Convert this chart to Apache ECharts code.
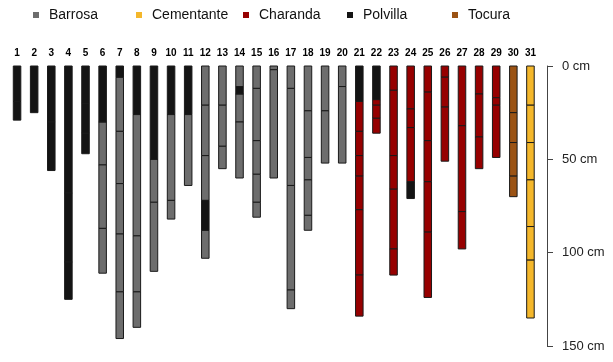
<!DOCTYPE html>
<html>
<head>
<meta charset="utf-8">
<title>Perfiles de suelo</title>
<script src="https://cdn.jsdelivr.net/npm/echarts@6/dist/echarts.min.js"></script>
<style>
  html, body { margin: 0; padding: 0; background: #fff; }
  #chart { width: 613px; height: 362px; }
</style>
</head>
<body>
<div id="chart"></div>
<script>
// cores (sondeos) shown across the top
var cores = ['1','2','3','4','5','6','7','8','9','10','11','12','13','14','15','16',
             '17','18','19','20','21','22','23','24','25','26','27','28','29','30','31'];
var soilTypes = ['Barrosa', 'Cementante', 'Charanda', 'Polvilla', 'Tocura'];
var soilColors = ['#6d6d6d', '#f4b72b', '#960000', '#141414', '#9b5314'];
var depthTicks = [0, 50, 100, 150];

// horizons: [core number, top cm, bottom cm]
var barrosaLayers = [
  [6,30,53],[6,53,87],[6,87,111],
  [7,6,35],[7,35,63],[7,63,90],[7,90,121],[7,121,146],
  [8,26,91],[8,91,121],[8,121,140],
  [9,50,73],[9,73,110],
  [10,26,72],[10,72,82],
  [11,26,64],
  [12,0,21],[12,21,48],[12,48,72],[12,88,103],
  [13,0,21],[13,21,43],[13,43,55],
  [14,0,11],[14,15,30],[14,30,60],
  [15,0,12],[15,12,40],[15,40,58],[15,58,73],[15,73,81],
  [16,0,2],[16,2,60],
  [17,0,12],[17,12,64],[17,64,120],[17,120,130],
  [18,0,24],[18,24,49],[18,49,61],[18,61,80],[18,80,88],
  [19,0,24],[19,24,52],
  [20,0,11],[20,11,52]
];
var cementanteLayers = [
  [31,0,21],[31,21,41],[31,41,61],[31,61,86],[31,86,104],[31,104,135]
];
var charandaLayers = [
  [21,19,35],[21,35,48],[21,48,59],[21,59,77],[21,77,112],[21,112,134],
  [22,18,21],[22,21,28],[22,28,36],
  [23,0,13],[23,13,48],[23,48,66],[23,66,98],[23,98,112],
  [24,0,23],[24,23,33],[24,33,62],
  [25,0,14],[25,14,40],[25,40,62],[25,62,89],[25,89,124],
  [26,0,6],[26,6,22],[26,22,51],
  [27,0,32],[27,32,78],[27,78,98],
  [28,0,15],[28,15,38],[28,38,55],
  [29,0,17],[29,17,21],[29,21,49]
];
var polvillaLayers = [
  [1,0,19],[1,19,29],
  [2,0,25],
  [3,0,30],[3,30,56],
  [4,0,68],[4,68,105],[4,105,125],
  [5,0,20],[5,20,36],[5,36,47],
  [6,0,30],[7,0,6],[8,0,26],[9,0,50],[10,0,26],[11,0,26],
  [12,72,88],[14,11,15],
  [21,0,19],[22,0,18],[24,62,71]
];
var tocuraLayers = [
  [30,0,25],[30,25,41],[30,41,59],[30,59,70]
];

var layerSets = [barrosaLayers, cementanteLayers, charandaLayers, polvillaLayers, tocuraLayers];

function renderLayer(params, api) {
  var idx = api.value(0);
  var top = api.coord([idx, api.value(1)]);
  var bot = api.coord([idx, api.value(2)]);
  var w = api.size([1, 0])[0] * 0.44;
  return {
    type: 'rect',
    shape: { x: top[0] - w / 2, y: top[1], width: w, height: bot[1] - top[1] },
    style: { fill: api.visual('color'), stroke: '#1a1a1a', lineWidth: 1 }
  };
}

var series = [];
for (var s = 0; s < soilTypes.length; s++) {
  series.push({
    name: soilTypes[s],
    type: 'custom',
    renderItem: renderLayer,
    itemStyle: { color: soilColors[s] },
    encode: { x: 0, y: [1, 2] },
    data: layerSets[s].map(function (l) { return [l[0] - 1, l[1], l[2]]; })
  });
}

var legendLeft = [33, 136, 243, 347, 452];
var legends = soilTypes.map(function (name, i) {
  return {
    data: [name],
    left: legendLeft[i],
    top: 8,
    padding: 0,
    icon: 'rect',
    itemWidth: 6,
    itemHeight: 6,
    selectedMode: false,
    textStyle: { fontFamily: 'Liberation Sans', fontSize: 14, color: '#111', padding: [0, 0, 0, 5] }
  };
});

var chart = echarts.init(document.getElementById('chart'));
chart.setOption({
  animation: false,
  color: soilColors,
  legend: legends,
  grid: { left: 8.5, right: 74, top: 66, bottom: 16 },
  xAxis: {
    type: 'category',
    data: cores,
    position: 'top',
    axisLine: { show: false },
    axisTick: { show: false },
    axisLabel: { interval: 0, margin: 8, fontFamily: 'Liberation Sans', fontSize: 10, fontWeight: 'bold', color: '#000' },
    splitLine: { show: false }
  },
  yAxis: {
    type: 'value',
    inverse: true,
    position: 'right',
    offset: 8,
    min: depthTicks[0],
    max: depthTicks[depthTicks.length - 1],
    interval: 50,
    axisLine: { show: true, lineStyle: { color: '#444', width: 1 } },
    axisTick: { show: true, length: 6, lineStyle: { color: '#444' } },
    axisLabel: { margin: 15, fontFamily: 'Liberation Sans', fontSize: 13, color: '#222', formatter: '{value} cm' },
    splitLine: { show: false }
  },
  series: series
});
</script>
</body>
</html>
